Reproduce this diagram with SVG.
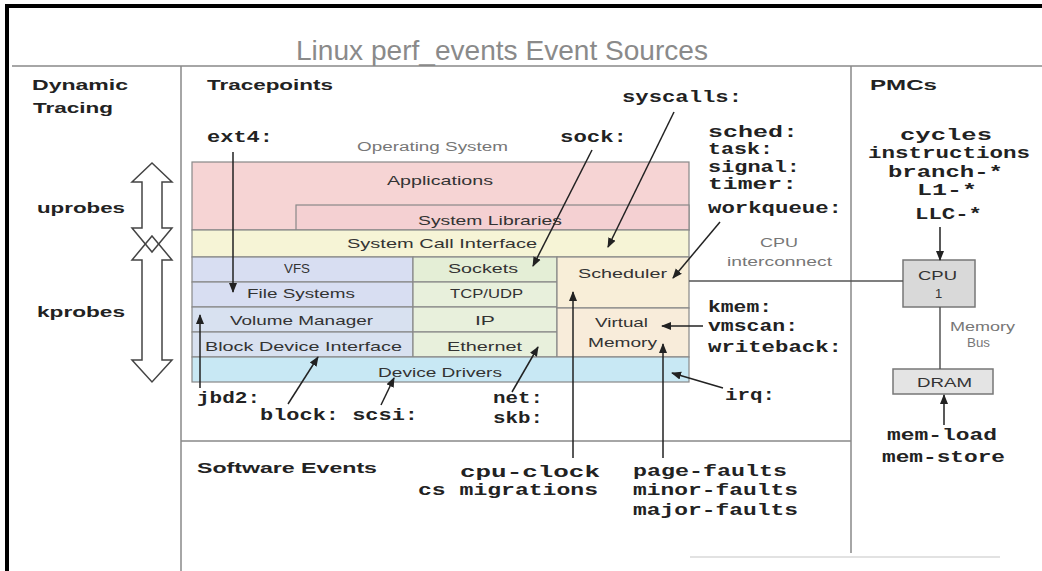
<svg xmlns="http://www.w3.org/2000/svg" width="1042" height="571" viewBox="0 0 1042 571">
<defs>
<marker id="ah" markerUnits="userSpaceOnUse" markerWidth="10" markerHeight="10" viewBox="0 0 10 10" refX="9" refY="5" orient="auto"><path d="M0,1 L10,5 L0,9 Z" fill="#222"/></marker>
<style>
.t{font-family:"Liberation Sans",Arial,sans-serif;}
.b{font-family:"Liberation Sans",Arial,sans-serif;font-weight:bold;font-size:15px;fill:#222;}
.m{font-family:"Liberation Mono","Courier New",monospace;font-weight:bold;font-size:17px;fill:#222;}
.r{font-family:"Liberation Sans",Arial,sans-serif;font-size:13px;fill:#333;}
.g{font-family:"Liberation Sans",Arial,sans-serif;font-size:12px;fill:#777;}
.div{stroke:#888;stroke-width:1.5;fill:none;}
.cell{stroke:#888;stroke-width:1.2;}
.arr{stroke:#222;stroke-width:1.5;fill:none;marker-end:url(#ah);}
.ln{stroke:#555;stroke-width:1.5;fill:none;}
.dbl{stroke:#444;stroke-width:1.5;fill:none;}
</style>
</defs>
<rect x="0" y="0" width="1042" height="571" fill="#fff"/>
<rect x="5" y="4" width="4" height="567" fill="#000"/>
<rect x="5" y="4" width="1037" height="4" fill="#000"/>

<text class="t" x="296" y="60" font-size="28" fill="#8a8a8a" textLength="412" lengthAdjust="spacingAndGlyphs">Linux perf_events Event Sources</text>

<g id="dividers">
<line class="div" x1="12" y1="66" x2="1042" y2="66" stroke="#bbb"/>
<line class="div" x1="181" y1="66" x2="181" y2="571"/>
<line class="div" x1="851" y1="66" x2="851" y2="553"/>
<line class="div" x1="181" y1="441" x2="851" y2="441"/>
<line x1="690" y1="557" x2="1000" y2="557" stroke="#e2e2e2" stroke-width="2"/>
</g>

<g id="section-labels">
<text class="b" x="32" y="90" textLength="96" lengthAdjust="spacingAndGlyphs">Dynamic</text>
<text class="b" x="33" y="113" textLength="80" lengthAdjust="spacingAndGlyphs">Tracing</text>
<text class="b" x="207" y="90" textLength="126" lengthAdjust="spacingAndGlyphs">Tracepoints</text>
<text class="b" x="870" y="90" textLength="67" lengthAdjust="spacingAndGlyphs">PMCs</text>
<text class="b" x="37" y="213" textLength="88" lengthAdjust="spacingAndGlyphs">uprobes</text>
<text class="b" x="37" y="317" textLength="88" lengthAdjust="spacingAndGlyphs">kprobes</text>
<text class="b" x="197" y="473" textLength="180" lengthAdjust="spacingAndGlyphs">Software Events</text>
</g>

<g id="probe-arrows">
<path class="dbl" d="M152,163 L172,182 L162,182 L162,228 L172,228 L152,252 L132,228 L142,228 L142,182 L132,182 Z"/>
<path class="dbl" d="M152,236 L172,260 L162,260 L162,360 L172,360 L152,382 L132,360 L142,360 L142,260 L132,260 Z"/>
</g>

<g id="os-stack">
<text class="g" x="357" y="151" textLength="151" lengthAdjust="spacingAndGlyphs">Operating System</text>
<g id="applications">
<rect class="cell" x="192" y="162" width="497" height="68" fill="#f6d4d4"/>
<text class="r" x="387" y="185" textLength="106" lengthAdjust="spacingAndGlyphs">Applications</text>
</g>
<g id="system-libraries">
<rect class="cell" x="296" y="205" width="393" height="25" fill="#f4d0d2"/>
<text class="r" x="418" y="225" textLength="144" lengthAdjust="spacingAndGlyphs">System Libraries</text>
</g>
<g id="syscall-interface">
<rect class="cell" x="192" y="230" width="497" height="27" fill="#f6f4d6"/>
<text class="r" x="347" y="248" textLength="190" lengthAdjust="spacingAndGlyphs">System Call Interface</text>
</g>
<g id="vfs">
<rect class="cell" x="192" y="257" width="221" height="25" fill="#d8def2"/>
<text class="r" x="284" y="273" textLength="26" lengthAdjust="spacingAndGlyphs">VFS</text>
</g>
<g id="file-systems">
<rect class="cell" x="192" y="282" width="221" height="25" fill="#d8def2"/>
<text class="r" x="247" y="298" textLength="108" lengthAdjust="spacingAndGlyphs">File Systems</text>
</g>
<g id="volume-manager">
<rect class="cell" x="192" y="307" width="221" height="25" fill="#d8e1f0"/>
<text class="r" x="230" y="325" textLength="143" lengthAdjust="spacingAndGlyphs">Volume Manager</text>
</g>
<g id="block-device-interface">
<rect class="cell" x="192" y="332" width="221" height="25" fill="#d8e1f0"/>
<text class="r" x="205" y="351" textLength="197" lengthAdjust="spacingAndGlyphs">Block Device Interface</text>
</g>
<g id="sockets">
<rect class="cell" x="413" y="257" width="144" height="25" fill="#e4eed6"/>
<text class="r" x="448" y="273" textLength="70" lengthAdjust="spacingAndGlyphs">Sockets</text>
</g>
<g id="tcp-udp">
<rect class="cell" x="413" y="282" width="144" height="25" fill="#e8f0dc"/>
<text class="r" x="450" y="298" textLength="73" lengthAdjust="spacingAndGlyphs">TCP/UDP</text>
</g>
<g id="ip">
<rect class="cell" x="413" y="307" width="144" height="25" fill="#e8f0dc"/>
<text class="r" x="475" y="325" textLength="20" lengthAdjust="spacingAndGlyphs">IP</text>
</g>
<g id="ethernet">
<rect class="cell" x="413" y="332" width="144" height="25" fill="#e8f0dc"/>
<text class="r" x="447" y="351" textLength="75" lengthAdjust="spacingAndGlyphs">Ethernet</text>
</g>
<g id="scheduler">
<rect class="cell" x="557" y="257" width="132" height="51" fill="#f8eed8"/>
<text class="r" x="578" y="278" textLength="89" lengthAdjust="spacingAndGlyphs">Scheduler</text>
</g>
<g id="virtual-memory">
<rect class="cell" x="557" y="308" width="132" height="49" fill="#f8ecda"/>
<text class="r" x="595" y="327" textLength="53" lengthAdjust="spacingAndGlyphs">Virtual</text>
<text class="r" x="588" y="347" textLength="69" lengthAdjust="spacingAndGlyphs">Memory</text>
</g>
<g id="device-drivers">
<rect class="cell" x="192" y="357" width="497" height="25" fill="#c8e8f4"/>
<text class="r" x="378" y="377" textLength="124" lengthAdjust="spacingAndGlyphs">Device Drivers</text>
</g>
</g>

<g id="hardware">
<text class="g" x="760" y="247" textLength="38" lengthAdjust="spacingAndGlyphs">CPU</text>
<text class="g" x="727" y="266" textLength="105" lengthAdjust="spacingAndGlyphs">interconnect</text>
<g id="cpu">
<rect x="903" y="260" width="72" height="47" fill="#d9d9d9" stroke="#777" stroke-width="1.5"/>
<text class="r" x="918" y="280" textLength="39" lengthAdjust="spacingAndGlyphs">CPU</text>
<text class="r" x="935" y="298">1</text>
</g>
<text class="g" x="950" y="331" textLength="65" lengthAdjust="spacingAndGlyphs">Memory</text>
<text class="g" x="967" y="347" textLength="23" lengthAdjust="spacingAndGlyphs">Bus</text>
<g id="dram">
<rect x="893" y="369" width="100" height="25" fill="#e4e4e4" stroke="#777" stroke-width="1.5"/>
<text class="r" x="917" y="387" textLength="55" lengthAdjust="spacingAndGlyphs">DRAM</text>
</g>
</g>

<g id="event-labels">
<text class="m" x="207" y="142" textLength="66" lengthAdjust="spacingAndGlyphs">ext4:</text>
<text class="m" x="560" y="142" textLength="67" lengthAdjust="spacingAndGlyphs">sock:</text>
<text class="m" x="622" y="102" textLength="120" lengthAdjust="spacingAndGlyphs">syscalls:</text>
<text class="m" x="708" y="137" textLength="90" lengthAdjust="spacingAndGlyphs">sched:</text>
<text class="m" x="708" y="154" textLength="65" lengthAdjust="spacingAndGlyphs">task:</text>
<text class="m" x="708" y="172" textLength="92" lengthAdjust="spacingAndGlyphs">signal:</text>
<text class="m" x="708" y="189" textLength="89" lengthAdjust="spacingAndGlyphs">timer:</text>
<text class="m" x="708" y="213" textLength="134" lengthAdjust="spacingAndGlyphs">workqueue:</text>
<text class="m" x="900" y="140" textLength="92" lengthAdjust="spacingAndGlyphs">cycles</text>
<text class="m" x="868" y="158" textLength="162" lengthAdjust="spacingAndGlyphs">instructions</text>
<text class="m" x="888" y="177" textLength="115" lengthAdjust="spacingAndGlyphs">branch-*</text>
<text class="m" x="917" y="195" textLength="60" lengthAdjust="spacingAndGlyphs">L1-*</text>
<text class="m" x="915" y="219" textLength="67" lengthAdjust="spacingAndGlyphs">LLC-*</text>
<text class="m" x="708" y="312" textLength="64" lengthAdjust="spacingAndGlyphs">kmem:</text>
<text class="m" x="708" y="331" textLength="90" lengthAdjust="spacingAndGlyphs">vmscan:</text>
<text class="m" x="708" y="352" textLength="134" lengthAdjust="spacingAndGlyphs">writeback:</text>
<text class="m" x="725" y="400" textLength="50" lengthAdjust="spacingAndGlyphs">irq:</text>
<text class="m" x="197" y="403" textLength="63" lengthAdjust="spacingAndGlyphs">jbd2:</text>
<text class="m" x="260" y="420" textLength="158" lengthAdjust="spacingAndGlyphs">block: scsi:</text>
<text class="m" x="493" y="403" textLength="50" lengthAdjust="spacingAndGlyphs">net:</text>
<text class="m" x="493" y="423" textLength="50" lengthAdjust="spacingAndGlyphs">skb:</text>
<text class="m" x="460" y="477" textLength="140" lengthAdjust="spacingAndGlyphs">cpu-clock</text>
<text class="m" x="418" y="495" textLength="180" lengthAdjust="spacingAndGlyphs">cs migrations</text>
<text class="m" x="633" y="476" textLength="154" lengthAdjust="spacingAndGlyphs">page-faults</text>
<text class="m" x="633" y="495" textLength="165" lengthAdjust="spacingAndGlyphs">minor-faults</text>
<text class="m" x="633" y="515" textLength="165" lengthAdjust="spacingAndGlyphs">major-faults</text>
<text class="m" x="887" y="440" textLength="110" lengthAdjust="spacingAndGlyphs">mem-load</text>
<text class="m" x="882" y="462" textLength="123" lengthAdjust="spacingAndGlyphs">mem-store</text>
</g>

<g id="connectors">
<line class="ln" x1="689" y1="281" x2="903" y2="281"/>
<line class="ln" x1="940" y1="307" x2="940" y2="369"/>
<line class="arr" x1="233" y1="152" x2="233" y2="292"/>
<line class="arr" x1="592" y1="150" x2="533" y2="266"/>
<line class="arr" x1="674" y1="112" x2="608" y2="247"/>
<line class="arr" x1="720" y1="222" x2="673" y2="278"/>
<line class="arr" x1="703" y1="326" x2="662" y2="326"/>
<line class="arr" x1="723" y1="388" x2="672" y2="373"/>
<line class="arr" x1="940" y1="227" x2="940" y2="260"/>
<line class="arr" x1="944" y1="425" x2="944" y2="395"/>
<line class="arr" x1="200" y1="388" x2="200" y2="315"/>
<line class="arr" x1="288" y1="404" x2="318" y2="357"/>
<line class="arr" x1="381" y1="405" x2="394" y2="378"/>
<line class="arr" x1="512" y1="392" x2="538" y2="347"/>
<line class="arr" x1="573" y1="458" x2="573" y2="292"/>
<line class="arr" x1="663" y1="458" x2="663" y2="344"/>
</g>
</svg>
